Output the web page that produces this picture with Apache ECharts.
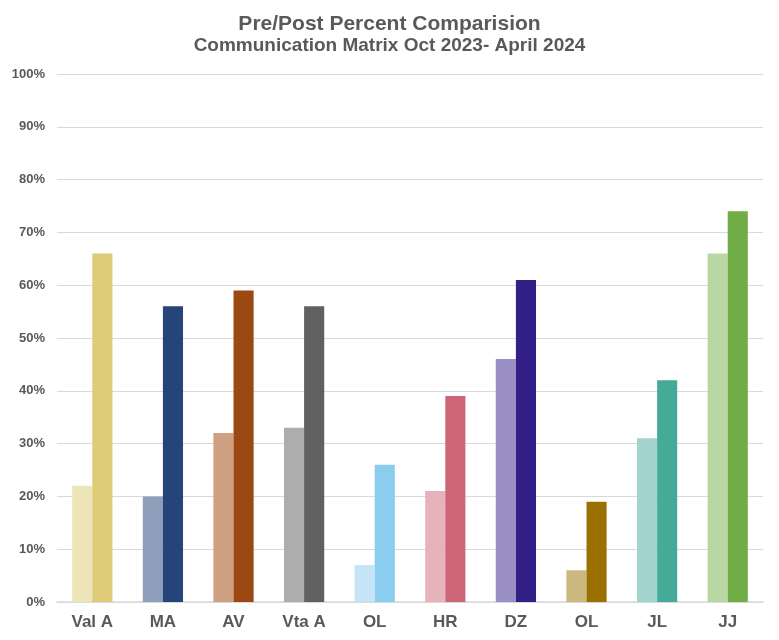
<!DOCTYPE html>
<html>
<head>
<meta charset="utf-8">
<script src="https://cdn.jsdelivr.net/npm/echarts@6/dist/echarts.min.js"></script>
<style>
html,body{margin:0;padding:0;background:#fff;}
#c{width:779px;height:640px;}
</style>
</head>
<body>
<div id="c"></div>
<script>
const categories = ['Val A','MA','AV','Vta A','OL','HR','DZ','OL','JL','JJ'];
const preValues = [22, 20, 32, 33, 7, 21, 46, 6, 31, 66];
const postValues = [66, 56, 59, 56, 26, 39, 61, 19, 42, 74];
const preColors = ['#EDE5B8','#8E9FBB','#CFA082','#ADADAD','#C5E4F6','#E6B2BB','#9A90C3','#CCB77F','#A3D5CE','#B8D7A3'];
const postColors = ['#DDCB77','#254479','#9C4812','#616161','#8BCDEE','#CC6577','#322086','#9A7000','#45AA98','#70AD47'];
const yTicks = [0,10,20,30,40,50,60,70,80,90,100];

const font = '"Liberation Sans", Arial, sans-serif';
const chart = echarts.init(document.getElementById('c'), null, {renderer:'canvas'});
chart.setOption({
  animation:false,
  backgroundColor:'#fff',
  title:[
    {text:'Pre/Post Percent Comparision', left:'center', top:9,
     textStyle:{fontFamily:font, fontWeight:'bold', fontSize:21, color:'#595959'}},
    {text:'Communication Matrix Oct 2023- April 2024', left:'center', top:31,
     textStyle:{fontFamily:font, fontWeight:'bold', fontSize:19, color:'#595959'}}
  ],
  grid:{left:57, right:16, top:74, bottom:38, containLabel:false},
  xAxis:{
    type:'category',
    data:categories,
    axisLine:{lineStyle:{color:'#D9D9D9', width:1.5}},
    axisTick:{show:false},
    axisLabel:{fontFamily:font, fontWeight:'bold', fontSize:17, color:'#595959', margin:12, interval:0}
  },
  yAxis:{
    type:'value', min:yTicks[0], max:yTicks[yTicks.length-1], interval:10,
    axisLine:{show:false}, axisTick:{show:false},
    splitLine:{lineStyle:{color:'#D9D9D9', width:1}},
    axisLabel:{fontFamily:font, fontWeight:'bold', fontSize:13, color:'#595959', margin:12, formatter:'{value}%'}
  },
  series:[
    {name:'Pre', type:'bar', barGap:'0%', barCategoryGap:'43%',
     data:preValues.map((v,i)=>({value:v, itemStyle:{color:preColors[i]}}))},
    {name:'Post', type:'bar', barGap:'0%', barCategoryGap:'43%',
     data:postValues.map((v,i)=>({value:v, itemStyle:{color:postColors[i]}}))}
  ]
});
</script>
</body>
</html>
